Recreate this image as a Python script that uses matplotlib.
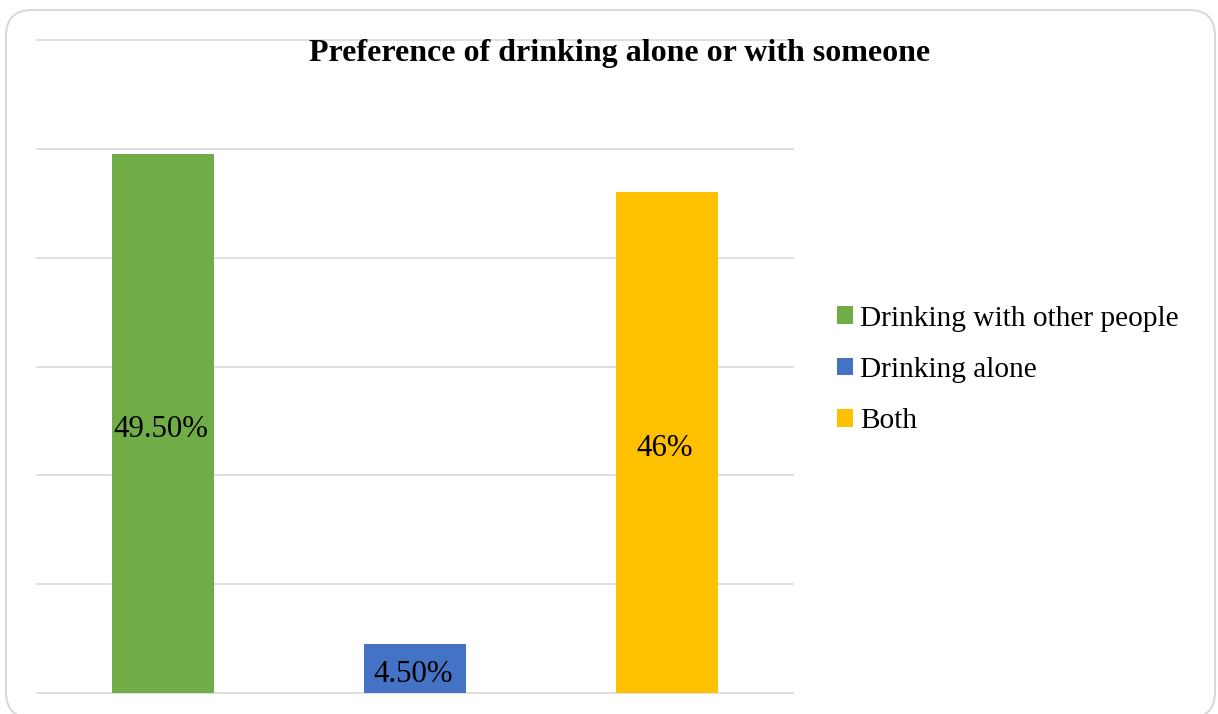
import matplotlib
matplotlib.use("Agg")
import matplotlib.pyplot as plt
from matplotlib.patches import Patch, FancyBboxPatch
from matplotlib.transforms import IdentityTransform

categories = ["Drinking with other people", "Drinking alone", "Both"]
values = [49.5, 4.5, 46.0]
value_labels = ["49.50%", "4.50%", "46%"]
colors = ["#70AD47", "#4472C4", "#FFC000"]
title = "Preference of drinking alone or with someone"

W, H, DPI = 1218, 714, 100
plt.rcParams["font.family"] = ["Liberation Serif", "DejaVu Serif"]

fig = plt.figure(figsize=(W / DPI, H / DPI), dpi=DPI)
fig.patch.set_facecolor("white")

# rounded chart-area border
border = FancyBboxPatch((6, -4), 1209, H - 10 + 4,
                        boxstyle="round,pad=0,rounding_size=26",
                        transform=IdentityTransform(), fill=False,
                        edgecolor="#D9D9D9", linewidth=1.5, zorder=0)
fig.patches.append(border)

ax = fig.add_axes([37 / W, 1 - 693 / H, (793 - 37) / W, (693 - 40) / H])
x = list(range(len(categories)))
for i in x:
    ax.bar(i, values[i], width=0.405, color=colors[i], label=categories[i], zorder=3)
    ax.annotate(value_labels[i], xy=(i, values[i] / 2), xytext=(-1.5, -4),
                textcoords="offset points", ha="center", va="center",
                fontsize=22.2, color="black", zorder=4)

ax.set_xlim(-0.5, len(categories) - 0.5)
ax.set_ylim(0, 60)
ax.set_yticks(range(0, 61, 10))
ax.yaxis.grid(True, color="#D9D9D9", linewidth=1.2, zorder=0)
for gl in ax.get_ygridlines():
    gl.set_clip_on(False)
ax.tick_params(left=False, bottom=False, labelleft=False, labelbottom=False)
for s in ax.spines.values():
    s.set_visible(False)

fig.text(620 / W, 1 - 53 / H, title, ha="center", va="center",
         fontsize=23, fontweight="bold")

handles = [Patch(facecolor=c, edgecolor="none") for c in colors]
fig.legend(handles, categories, loc="center left",
           bbox_to_anchor=(837 / W, 1 - 370 / H), frameon=False,
           fontsize=21.2, handlelength=0.55, handleheight=0.55,
           handletextpad=0.23, labelspacing=0.86, borderpad=0, borderaxespad=0)

fig.savefig("out.png", dpi=DPI)
